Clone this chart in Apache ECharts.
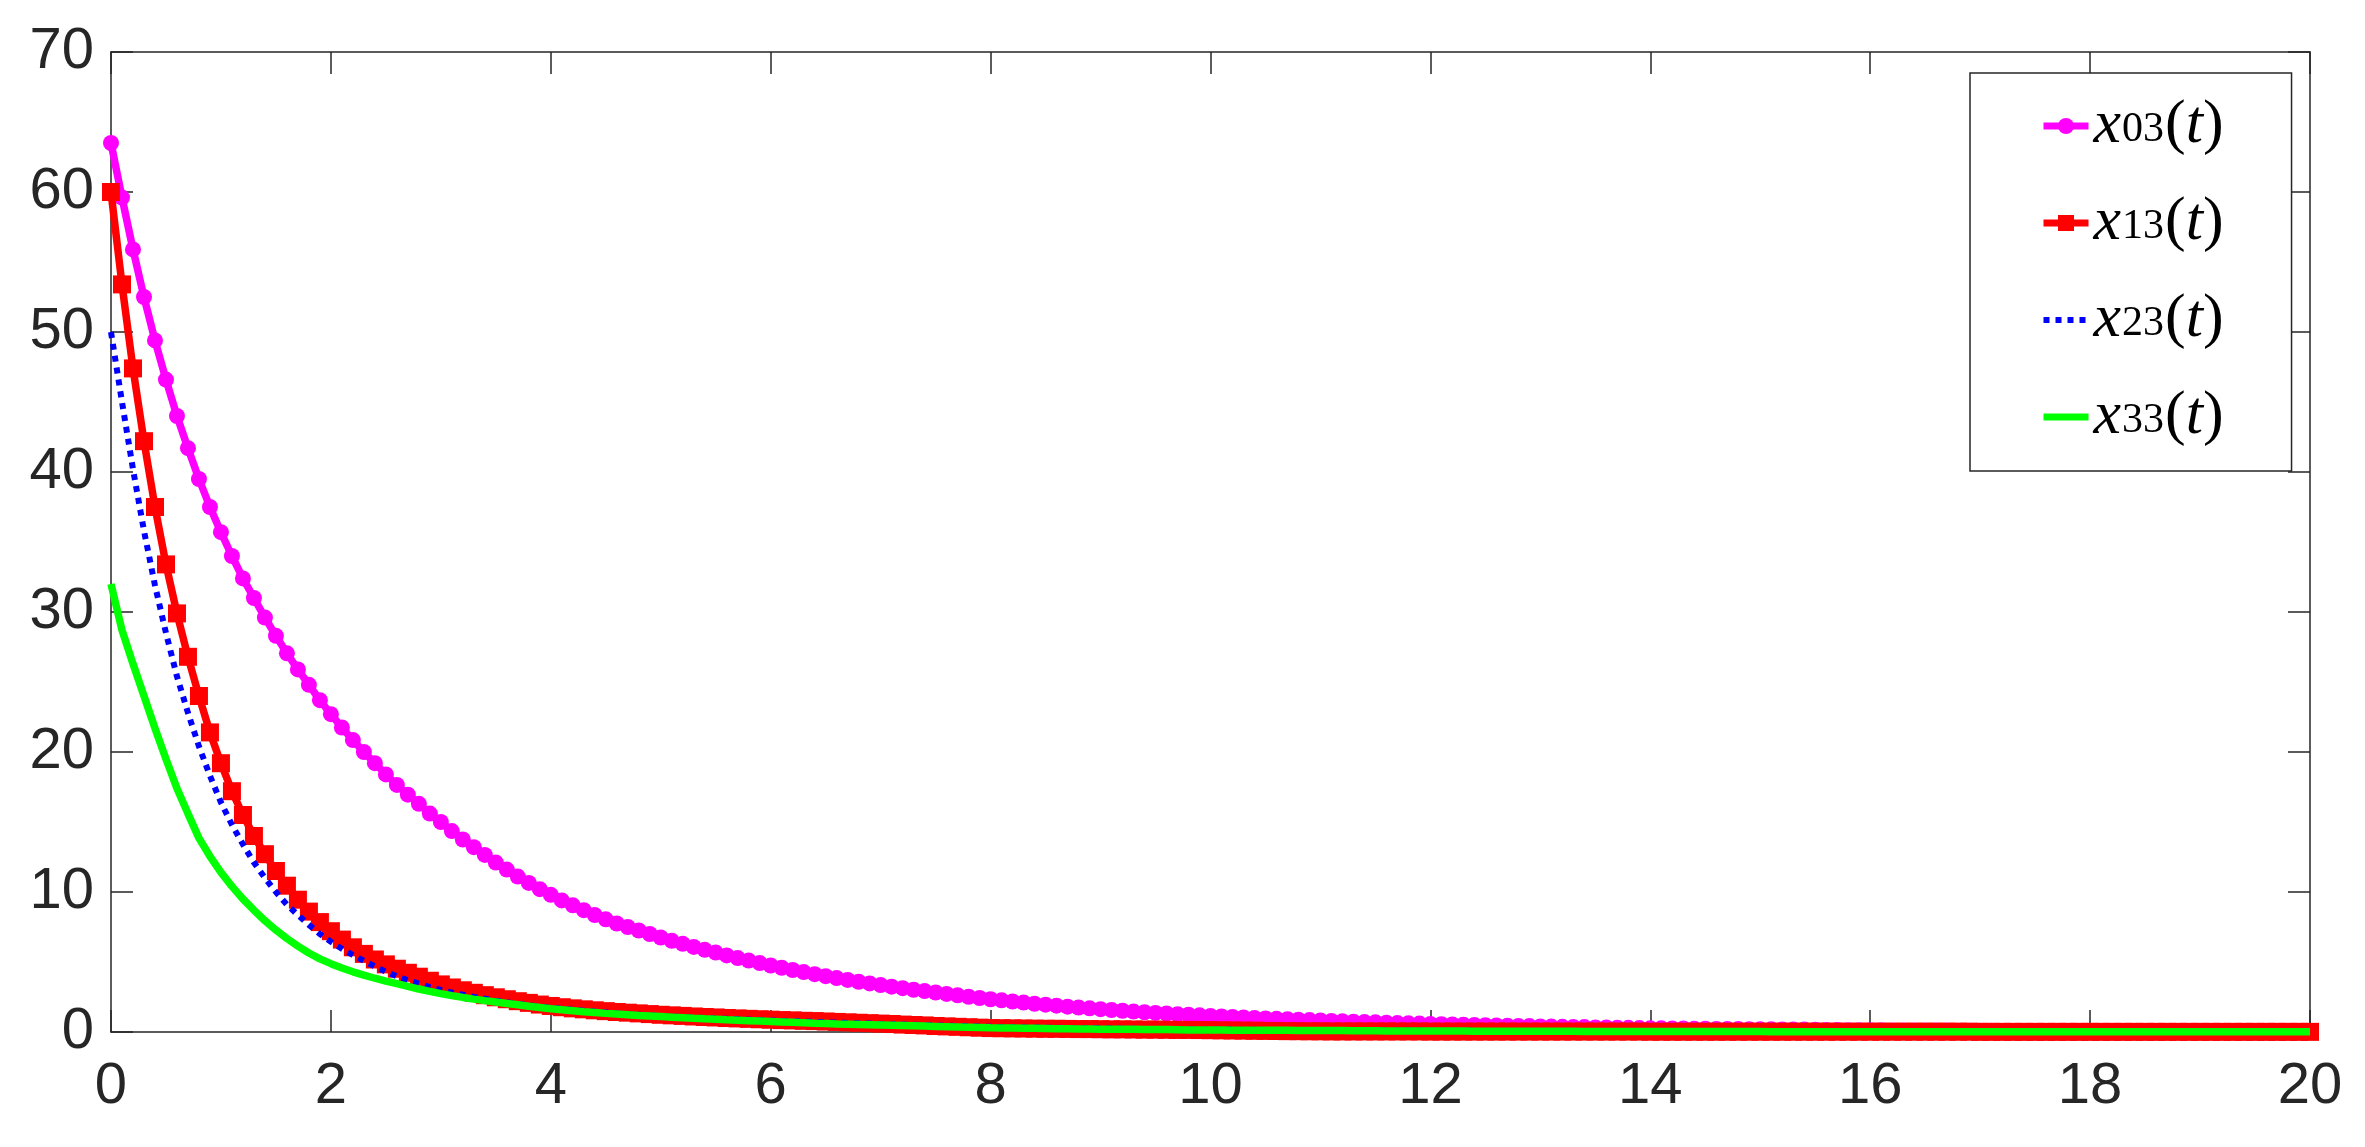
<!DOCTYPE html>
<html>
<head>
<meta charset="utf-8">
<script src="https://cdn.jsdelivr.net/npm/echarts@6/dist/echarts.min.js"></script>
<style>
  html, body { margin: 0; padding: 0; background: #fff; }
  #chart { width: 2365px; height: 1147px; }
</style>
</head>
<body>
<div id="chart"></div>
<script>
// sampling grid of the solution: t = 0 : 0.1 : 20
const tStep = 0.1;

const xTickLabels = [0, 2, 4, 6, 8, 10, 12, 14, 16, 18, 20];
const yTickLabels = [0, 10, 20, 30, 40, 50, 60, 70];

const names = ['x03(t)', 'x13(t)', 'x23(t)', 'x33(t)'];
const subs = ['03', '13', '23', '33'];
const colors = ['#ff00ff', '#ff0000', '#0000ff', '#00ff00'];

// values, one per 0.1 in t
const x03 = [
  63.5, 59.6, 55.9, 52.5, 49.4, 46.6, 44.0, 41.7, 39.5, 37.5,
  35.7, 34.0, 32.4, 31.0, 29.6, 28.3, 27.05, 25.9, 24.8, 23.7,
  22.7, 21.75, 20.85, 20.0, 19.2, 18.4, 17.65, 16.95, 16.3, 15.6,
  15.0, 14.35, 13.75, 13.2, 12.65, 12.1, 11.6, 11.1, 10.65, 10.2,
  9.8, 9.4, 9.05, 8.7, 8.35, 8.05, 7.75, 7.5, 7.25, 7.0,
  6.75, 6.52, 6.3, 6.08, 5.87, 5.67, 5.47, 5.28, 5.1, 4.92,
  4.75, 4.59, 4.43, 4.28, 4.13, 3.99, 3.85, 3.72, 3.59, 3.47,
  3.35, 3.24, 3.13, 3.02, 2.92, 2.82, 2.72, 2.62, 2.52, 2.43,
  2.34, 2.26, 2.18, 2.1, 2.02, 1.95, 1.88, 1.81, 1.75, 1.69,
  1.63, 1.57, 1.52, 1.46, 1.41, 1.36, 1.32, 1.27, 1.23, 1.19,
  1.15, 1.11, 1.07, 1.04, 1.0, 0.97, 0.94, 0.91, 0.88, 0.85,
  0.82, 0.79, 0.76, 0.74, 0.71, 0.69, 0.66, 0.64, 0.62, 0.6,
  0.58, 0.56, 0.54, 0.52, 0.5, 0.48, 0.47, 0.45, 0.43, 0.42,
  0.4, 0.39, 0.37, 0.36, 0.35, 0.33, 0.32, 0.31, 0.3, 0.28,
  0.27, 0.26, 0.25, 0.25, 0.24, 0.23, 0.22, 0.21, 0.21, 0.2,
  0.19, 0.19, 0.18, 0.17, 0.17, 0.16, 0.15, 0.14, 0.13, 0.13,
  0.12, 0.12, 0.11, 0.11, 0.11, 0.1, 0.1, 0.1, 0.09, 0.09,
  0.09, 0.09, 0.08, 0.08, 0.08, 0.08, 0.07, 0.07, 0.07, 0.07,
  0.07, 0.06, 0.06, 0.06, 0.06, 0.06, 0.06, 0.05, 0.05, 0.05,
  0.05, 0.05, 0.05, 0.05, 0.05, 0.04, 0.04, 0.04, 0.04, 0.04,
  0.04
];

const x13 = [
  60.0, 53.4, 47.4, 42.2, 37.5, 33.4, 29.9, 26.8, 24.0, 21.4,
  19.2, 17.2, 15.5, 14.0, 12.7, 11.5, 10.45, 9.45, 8.6, 7.85,
  7.2, 6.6, 6.05, 5.58, 5.18, 4.83, 4.52, 4.23, 3.95, 3.66,
  3.4, 3.18, 2.98, 2.8, 2.63, 2.48, 2.34, 2.2, 2.08, 1.96,
  1.86, 1.77, 1.69, 1.62, 1.55, 1.49, 1.43, 1.38, 1.33, 1.28,
  1.23, 1.19, 1.15, 1.11, 1.07, 1.04, 1.0, 0.97, 0.94, 0.91,
  0.88, 0.85, 0.83, 0.8, 0.78, 0.75, 0.72, 0.69, 0.66, 0.63,
  0.6, 0.57, 0.53, 0.5, 0.47, 0.43, 0.4, 0.37, 0.34, 0.31,
  0.28, 0.27, 0.26, 0.25, 0.24, 0.23, 0.23, 0.22, 0.21, 0.21,
  0.2, 0.19, 0.19, 0.18, 0.17, 0.17, 0.16, 0.15, 0.15, 0.14,
  0.13, 0.12, 0.11, 0.1, 0.09, 0.08, 0.07, 0.06, 0.06, 0.05,
  0.05, 0.04, 0.04, 0.04, 0.04, 0.04, 0.04, 0.04, 0.04, 0.04,
  0.03, 0.03, 0.03, 0.03, 0.03, 0.03, 0.03, 0.03, 0.03, 0.03,
  0.03, 0.03, 0.03, 0.03, 0.03, 0.03, 0.03, 0.03, 0.03, 0.03,
  0.02, 0.02, 0.02, 0.02, 0.02, 0.02, 0.02, 0.02, 0.02, 0.02,
  0.02, 0.02, 0.02, 0.02, 0.02, 0.02, 0.02, 0.02, 0.02, 0.02,
  0.02, 0.02, 0.02, 0.02, 0.02, 0.02, 0.02, 0.02, 0.02, 0.02,
  0.01, 0.01, 0.01, 0.01, 0.01, 0.01, 0.01, 0.01, 0.01, 0.01,
  0.01, 0.01, 0.01, 0.01, 0.01, 0.01, 0.01, 0.01, 0.01, 0.01,
  0.01, 0.01, 0.01, 0.01, 0.01, 0.01, 0.01, 0.01, 0.01, 0.01,
  0.01
];

const x23 = [
  50.0, 45.0, 40.2, 35.8, 31.9, 28.5, 25.4, 22.8, 20.4, 18.3,
  16.4, 14.8, 13.4, 12.1, 11.0, 10.0, 9.1, 8.35, 7.65, 7.0,
  6.45, 5.95, 5.5, 5.08, 4.68, 4.3, 3.98, 3.7, 3.45, 3.2,
  3.0, 2.82, 2.66, 2.51, 2.37, 2.24, 2.12, 2.01, 1.91, 1.82,
  1.74, 1.66, 1.59, 1.52, 1.46, 1.4, 1.34, 1.29, 1.24, 1.19,
  1.15, 1.11, 1.07, 1.03, 1.0, 0.97, 0.94, 0.91, 0.88, 0.85,
  0.82, 0.79, 0.77, 0.74, 0.72, 0.69, 0.67, 0.64, 0.62, 0.6,
  0.57, 0.55, 0.53, 0.51, 0.49, 0.47, 0.45, 0.43, 0.41, 0.39,
  0.37, 0.36, 0.34, 0.33, 0.32, 0.31, 0.3, 0.29, 0.28, 0.27,
  0.26, 0.25, 0.24, 0.23, 0.22, 0.21, 0.21, 0.2, 0.19, 0.18,
  0.18, 0.17, 0.17, 0.16, 0.16, 0.15, 0.15, 0.14, 0.14, 0.13,
  0.13, 0.12, 0.12, 0.12, 0.11, 0.11, 0.11, 0.1, 0.1, 0.1,
  0.09, 0.09, 0.09, 0.09, 0.08, 0.08, 0.08, 0.08, 0.07, 0.07,
  0.07, 0.07, 0.06, 0.06, 0.06, 0.06, 0.06, 0.05, 0.05, 0.05,
  0.05, 0.05, 0.05, 0.05, 0.04, 0.04, 0.04, 0.04, 0.04, 0.04,
  0.04, 0.04, 0.04, 0.04, 0.03, 0.03, 0.03, 0.03, 0.03, 0.03,
  0.03, 0.03, 0.03, 0.03, 0.03, 0.03, 0.03, 0.03, 0.03, 0.03,
  0.02, 0.02, 0.02, 0.02, 0.02, 0.02, 0.02, 0.02, 0.02, 0.02,
  0.02, 0.02, 0.02, 0.02, 0.02, 0.02, 0.02, 0.02, 0.02, 0.02,
  0.01, 0.01, 0.01, 0.01, 0.01, 0.01, 0.01, 0.01, 0.01, 0.01,
  0.01
];

const x33 = [
  32.0, 28.7, 26.3, 24.0, 21.7, 19.5, 17.4, 15.6, 13.85, 12.55,
  11.4, 10.4, 9.5, 8.7, 7.95, 7.28, 6.68, 6.13, 5.64, 5.22,
  4.88, 4.57, 4.3, 4.06, 3.84, 3.64, 3.45, 3.26, 3.07, 2.9,
  2.74, 2.6, 2.47, 2.35, 2.24, 2.14, 2.04, 1.94, 1.84, 1.75,
  1.66, 1.59, 1.52, 1.45, 1.39, 1.33, 1.28, 1.23, 1.18, 1.14,
  1.1, 1.06, 1.02, 0.98, 0.94, 0.91, 0.87, 0.84, 0.81, 0.78,
  0.75, 0.72, 0.69, 0.66, 0.63, 0.61, 0.58, 0.56, 0.54, 0.52,
  0.5, 0.48, 0.46, 0.44, 0.42, 0.4, 0.38, 0.36, 0.34, 0.32,
  0.3, 0.29, 0.28, 0.27, 0.26, 0.25, 0.24, 0.23, 0.22, 0.21,
  0.2, 0.2, 0.19, 0.19, 0.18, 0.17, 0.17, 0.16, 0.15, 0.15,
  0.14, 0.14, 0.13, 0.13, 0.13, 0.12, 0.12, 0.12, 0.11, 0.11,
  0.1, 0.1, 0.1, 0.09, 0.09, 0.09, 0.08, 0.08, 0.08, 0.08,
  0.07, 0.07, 0.07, 0.07, 0.06, 0.06, 0.06, 0.06, 0.06, 0.05,
  0.05, 0.05, 0.05, 0.05, 0.04, 0.04, 0.04, 0.04, 0.04, 0.03,
  0.03, 0.03, 0.03, 0.03, 0.03, 0.03, 0.03, 0.03, 0.03, 0.03,
  0.03, 0.02, 0.02, 0.02, 0.02, 0.02, 0.02, 0.02, 0.02, 0.02,
  0.02, 0.02, 0.02, 0.02, 0.02, 0.02, 0.02, 0.02, 0.02, 0.02,
  0.01, 0.01, 0.01, 0.01, 0.01, 0.01, 0.01, 0.01, 0.01, 0.01,
  0.01, 0.01, 0.01, 0.01, 0.01, 0.01, 0.01, 0.01, 0.01, 0.01,
  0.01, 0.01, 0.01, 0.01, 0.01, 0.01, 0.01, 0.01, 0.01, 0.01,
  0.01
];

const axisColor = '#262626';
const pairs = ys => ys.map((v, i) => [+(i * tStep).toFixed(1), v]);

function axis(ticks, pos, labels) {
  return {
    type: 'value',
    position: pos,
    min: ticks[0],
    max: ticks[ticks.length - 1],
    interval: ticks[1] - ticks[0],
    axisLine: { show: true, onZero: false, lineStyle: { color: axisColor, width: 1.5 } },
    axisTick: { show: true, inside: true, length: 22, lineStyle: { color: axisColor, width: 1.5 } },
    splitLine: { show: false },
    axisLabel: {
      show: labels,
      color: axisColor,
      fontFamily: 'Liberation Sans',
      fontSize: 58,
      margin: (pos === 'left') ? 17 : 26
    }
  };
}

const chart = echarts.init(document.getElementById('chart'), null, { renderer: 'canvas' });

chart.setOption({
  animation: false,
  backgroundColor: '#fff',
  grid: { left: 111, right: 55, top: 52, bottom: 115, outerBoundsMode: 'none' },
  xAxis: [axis(xTickLabels, 'bottom', true), axis(xTickLabels, 'top', false)],
  yAxis: [axis(yTickLabels, 'left', true), axis(yTickLabels, 'right', false)],
  legend: {
    orient: 'vertical',
    left: 1970,
    top: 73,
    itemWidth: 45,
    itemHeight: 20,
    itemGap: 35,
    padding: [22, 68, 23, 70],
    backgroundColor: '#fff',
    borderColor: axisColor,
    borderWidth: 1.5,
    lineStyle: { width: 7 },
    data: [
      { name: names[0] },
      { name: names[1] },
      { name: names[2], itemStyle: { opacity: 0 }, lineStyle: { width: 6 } },
      { name: names[3], itemStyle: { opacity: 0 } }
    ],
    formatter: name => `{i|x}{s|${subs[names.indexOf(name)]}}{p|(}{i|t}{p|)}`,
    textStyle: {
      color: '#000',
      fontFamily: 'Liberation Serif',
      fontSize: 62,
      rich: {
        i: { fontFamily: 'Liberation Serif', fontStyle: 'italic', fontSize: 62, lineHeight: 62, color: '#000' },
        s: { fontFamily: 'Liberation Serif', fontSize: 42, lineHeight: 42, padding: [7, 1, 0, 1], color: '#000' },
        p: { fontFamily: 'Liberation Serif', fontSize: 62, lineHeight: 62, color: '#000' }
      }
    }
  },
  series: [
    {
      name: names[0], type: 'line', data: pairs(x03), clip: false, z: 2,
      symbol: 'circle', symbolSize: 16, showSymbol: true,
      lineStyle: { color: colors[0], width: 7.5 },
      itemStyle: { color: colors[0], borderWidth: 0 },
      emphasis: { disabled: true }
    },
    {
      name: names[1], type: 'line', data: pairs(x13), clip: false, z: 3,
      symbol: 'rect', symbolSize: 18, showSymbol: true,
      lineStyle: { color: colors[1], width: 7.5 },
      itemStyle: { color: colors[1], borderWidth: 0 },
      emphasis: { disabled: true }
    },
    {
      name: names[2], type: 'line', data: pairs(x23), clip: false, z: 4,
      symbol: 'none', showSymbol: false,
      lineStyle: { color: colors[2], width: 6, type: [6, 6], cap: 'butt' },
      itemStyle: { color: colors[2] },
      emphasis: { disabled: true }
    },
    {
      name: names[3], type: 'line', data: pairs(x33), clip: false, z: 5,
      symbol: 'none', showSymbol: false,
      lineStyle: { color: colors[3], width: 7.5 },
      itemStyle: { color: colors[3] },
      emphasis: { disabled: true }
    }
  ]
});
</script>
</body>
</html>
